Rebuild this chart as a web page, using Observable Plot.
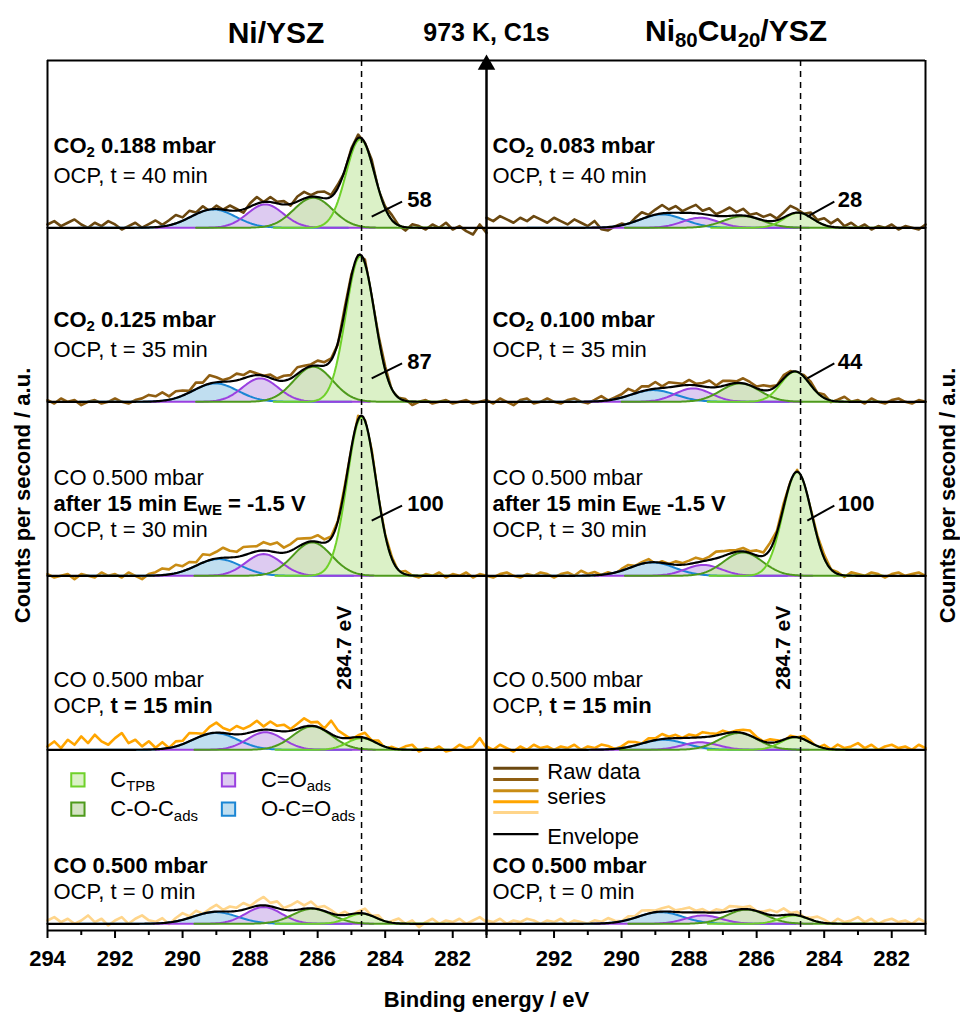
<!DOCTYPE html>
<html><head><meta charset="utf-8">
<script src="https://cdn.jsdelivr.net/npm/d3@7"></script>
<script src="https://cdn.jsdelivr.net/npm/@observablehq/plot@0.6"></script>
<style>
body{margin:0;background:#fff;}
#chart svg{display:block;}
</style></head><body><div id="chart"></div>
<script>
// ---------------- data ----------------
const panels = ["Ni/YSZ", "Ni80Cu20/YSZ"];
const rows = [0, 1, 2, 3, 4];
const componentNames = ["C_{TPB}", "C-O-C_{ads}", "C=O_{ads}", "O-C=O_{ads}"];
const componentFwhm = [1.0, 1.35, 1.25, 1.55];

// peak centres (eV) per row, order: C_TPB, C-O-C, C=O, O-C=O
const niCenters = [
  [284.74, 286.13, 287.55, 289.09],
  [284.74, 286.13, 287.70, 289.03],
  [284.70, 286.16, 287.60, 288.94],
  [284.70, 286.16, 287.55, 289.03],
  [284.70, 286.16, 287.60, 289.03]
];
const niHeights = [
  [53, 18, 14, 11],
  [87, 21, 14, 11],
  [95, 20, 13, 10],
  [7, 14, 10.5, 10],
  [6, 9, 10, 7]
];
const cuCenters = [
  [284.77, 286.40, 287.67, 288.80],
  [284.86, 286.49, 287.88, 289.06],
  [284.80, 286.40, 287.58, 289.09],
  [284.86, 286.54, 287.67, 288.76],
  [284.90, 286.30, 287.58, 288.85]
];
const cuHeights = [
  [9, 7, 6, 8],
  [18, 11, 8, 7],
  [62, 14, 6.5, 8],
  [7.5, 10, 4.5, 6],
  [5, 8.5, 5, 7]
];

// raw-data deviation from the envelope, every 0.2 eV from 294 to 281 eV
const niRawResidual = [
  [2,4,1,3,5,2,0,3,1,4, 2,-1,1,3,0,2,4,1,3,5, 2,4,1,3,-1,2,0,3,1,-2, 2,4,0,3,1,2,-1,3,4,1, 3,4,1,2,-1,1,2,0,2,-1, 1,3,0,-2,2,1,-1,2,0,3, -1,1,-2,-4,2,-3],
  [1,-1,2,0,1,-2,0,1,-1,0, 2,0,-1,1,2,4,3,5,2,4, 3,1,4,2,5,3,1,2,4,2, 3,1,0,2,1,3,2,4,2,1, 3,2,1,-1,2,1,0,2,-1,1, 2,-1,0,1,-2,0,1,-1,0,1, -1,0,1,-1,0,1],
  [1,-1,0,1,-2,1,0,-1,2,0, 1,-1,2,0,-2,1,2,4,3,5, 3,4,2,5,3,4,6,4,3,5, 4,3,5,4,6,3,4,5,3,2, 4,2,1,0,1,-1,2,0,1,-1, 0,1,-1,2,0,-1,1,0,2,-1, 1,0,2,-1,1,0],
  [2,5,1,6,3,8,4,9,5,3, 7,10,4,6,2,5,1,4,0,3, 2,5,3,1,4,6,3,2,5,3, 4,6,2,5,3,4,1,3,5,2, 3,1,8,4,2,-1,1,3,0,2, -1,1,0,2,3,-1,1,0,2,-1, 0,3,1,2,7,1],
  [2,4,1,3,0,2,5,1,3,-1, 2,4,0,3,5,2,1,3,-1,2, 4,1,3,0,2,4,1,3,2,4, 1,3,5,2,4,1,3,5,2,4, 1,3,2,0,2,-1,1,3,0,2, -1,1,3,0,2,-2,1,3,0,2, 1,3,0,2,4,1]
];
const cuRawResidual = [
  [6,4,7,5,3,6,4,7,5,3, 6,4,2,5,3,1,4,-1,-2,0, 1,-1,2,4,1,3,5,2,4,1, 3,5,2,4,1,3,5,2,4,1, 3,2,4,1,3,5,2,0,3,1, 4,2,5,1,3,0,2,-1,1,0, 2,-1,1,0,-1,2],
  [1,-1,2,0,-2,1,2,-1,0,2, 0,-1,1,2,0,-1,1,3,0,1, 2,4,1,3,2,4,1,3,2,1, 3,1,2,4,1,3,2,1,3,2, 1,3,2,0,2,1,-1,1,2,0, 2,-1,1,3,0,1,-1,2,0,-1, 1,2,0,-1,1,0],
  [0,-1,1,2,0,-1,1,0,2,1, -1,1,2,0,3,1,2,0,1,-1, 1,2,0,1,2,-1,1,0,2,1, 2,3,1,2,4,3,2,1,2,1, 3,2,4,1,2,0,1,-1,0,1, 2,0,1,-1,2,1,0,2,1,-1, 1,2,0,1,2,0],
  [2,0,3,1,-1,2,0,3,1,2, 0,2,1,3,0,2,1,3,2,0, 1,3,2,0,2,1,3,1,2,0, 2,1,3,2,1,2,0,1,2,3, 1,0,2,1,-1,1,0,2,1,-1, 2,0,3,1,2,4,1,3,0,2, 3,1,2,0,3,1],
  [2,1,3,0,2,1,3,2,0,2, 1,3,0,2,1,0,2,1,3,1, 0,2,1,3,2,1,2,3,1,2, 3,1,2,0,2,1,3,2,1,2, 0,1,3,2,4,1,2,0,1,3, 2,0,3,1,2,4,1,3,0,2, 3,1,2,0,3,1]
];

// annotation texts (** = bold, _{ } = subscript)
const niNotes = [
  ["**CO_{2} 0.188 mbar**", "OCP, t = 40 min"],
  ["**CO_{2} 0.125 mbar**", "OCP, t = 35 min"],
  ["CO 0.500 mbar", "**after 15 min E_{WE} = -1.5 V**", "OCP, t = 30 min"],
  ["CO 0.500 mbar", "OCP, **t = 15 min**"],
  ["**CO 0.500 mbar**", "OCP, t = 0 min"]
];
const cuNotes = [
  ["**CO_{2} 0.083 mbar**", "OCP, t = 40 min"],
  ["**CO_{2} 0.100 mbar**", "OCP, t = 35 min"],
  ["CO 0.500 mbar", "**after 15 min E_{WE} -1.5 V**", "OCP, t = 30 min"],
  ["CO 0.500 mbar", "OCP, **t = 15 min**"],
  ["**CO 0.500 mbar**", "OCP, t = 0 min"]
];
const niPeakPercent = [58, 87, 100];
const cuPeakPercent = [28, 44, 100];
const referenceEnergy = 284.7;
const niTickLabels = [294, 292, 290, 288, 286, 284, 282];
const cuTickLabels = [292, 290, 288, 286, 284, 282];
const rawLegendLabels = ["Raw data", "series"];

// ---------------- styles ----------------
const rawColors = ["#6b4810", "#8f5e12", "#c98c14", "#ffa500", "#ffd58a"];
const compStroke = ["#6fd12a", "#4e9a1c", "#9a40e0", "#1b86d4"];
const compFill = ["#dbf1c7", "#d4e3c3", "#ddcbf1", "#c0def0"];

// ---------------- build series ----------------
const params = {
  [panels[0]]: {c: niCenters, h: niHeights, res: niRawResidual, notes: niNotes, pct: niPeakPercent, ticks: niTickLabels},
  [panels[1]]: {c: cuCenters, h: cuHeights, res: cuRawResidual, notes: cuNotes, pct: cuPeakPercent, ticks: cuTickLabels}
};
function comp(p, r, k, x) {
  const c = params[p].c[r][k], h = params[p].h[r][k], w = componentFwhm[k];
  return h * Math.exp(-4 * Math.LN2 * (x - c) ** 2 / (w * w));
}
function env(p, r, x) { return d3.sum([0, 1, 2, 3], k => comp(p, r, k, x)); }
const fitGrid = d3.range(0, 261).map(i => +(294 - i * 0.05).toFixed(2));

const compData = [], envData = [], rawData = [];
for (const p of panels) for (const r of rows) {
  for (const x of fitGrid) {
    envData.push({panel: p, row: r, x, y: env(p, r, x)});
    for (let k = 0; k < 4; k++) {
      if (Math.abs(x - params[p].c[r][k]) <= 2.6 * componentFwhm[k])
        compData.push({panel: p, row: r, comp: k, x, y: comp(p, r, k, x)});
    }
  }
  params[p].res[r].forEach((v, i) => {
    const x = +(294 - i * 0.2).toFixed(2);
    rawData.push({panel: p, row: r, x, y: env(p, r, x) + v});
  });
}

// annotations
const noteBottom = [31, 31, 27.5, 26, 19];
const noteGap = [18, 18, 15.6, 16, 15.5];
const noteData = [];
for (const p of panels) for (const r of rows) {
  const lines = params[p].notes[r];
  lines.forEach((t, i) => noteData.push({panel: p, row: r, text: t, y: noteBottom[r] + (lines.length - 1 - i) * noteGap[r]}));
}
const pctY = [16.7, 24, 43];
const pctData = [], leaderData = [];
panels.forEach((p, pi) => params[p].pct.forEach((v, r) => {
  const tx = pi === 0 ? 283.35 : 283.6;
  pctData.push({panel: p, row: r, x: tx, y: pctY[r], text: String(v)});
  leaderData.push({panel: p, row: r, x1: pi === 0 ? 284.4 : 284.5, y1: pctY[r] - 10, x2: pi === 0 ? 283.5 : 283.7, y2: pctY[r] - 1});
}));
const tickLabelData = panels.flatMap(p => params[p].ticks.map(x => ({panel: p, row: 4, x})));

const F = {fx: "panel", fy: "row"};
const one = (p, r) => [{panel: p, row: r}];

// legend layout
const legCompPos = [[293.1, 86], [293.1, 68.5], [288.64, 86], [288.64, 68.5]];
const legRawY = [93, 86.3, 79.6, 72.9, 66.6];

const marks = [];
rows.forEach(r => marks.push(Plot.line(rawData.filter(d => d.row === r), {x: "x", y: "y", ...F, stroke: rawColors[r], strokeWidth: 2.6})));
[3, 2, 1, 0].forEach(k => marks.push(Plot.areaY(compData.filter(d => d.comp === k), {x: "x", y: "y", ...F, fill: compFill[k]})));
[3, 2, 1, 0].forEach(k => marks.push(Plot.line(compData.filter(d => d.comp === k), {x: "x", y: "y", ...F, stroke: compStroke[k], strokeWidth: 2})));
marks.push(Plot.line(envData, {x: "x", y: "y", ...F, stroke: "black", strokeWidth: 2.2}));
marks.push(Plot.ruleX([referenceEnergy], {strokeDasharray: "6,5", strokeWidth: 1.5}));
marks.push(Plot.ruleX([294, 281], {strokeWidth: 2}));
marks.push(Plot.ruleY(panels.flatMap(p => one(p, 0)), {y: () => 100, ...F, strokeWidth: 2}));
marks.push(Plot.ruleY(panels.flatMap(p => one(p, 4)), {y: () => -4, ...F, strokeWidth: 2}));
marks.push(Plot.dot(one(panels[0], 0), {x: () => 281, y: () => 97.5, ...F, symbol: "triangle", r: 6.5, fill: "black"}));
// x axis
marks.push(Plot.axisX({ticks: d3.range(282, 295, 2), tickSize: 8, tickFormat: () => "", strokeWidth: 2, label: null}));
marks.push(Plot.axisX({ticks: d3.range(281, 295, 2), tickSize: 5, tickFormat: () => "", strokeWidth: 2, label: null}));
marks.push(Plot.text(tickLabelData, {x: "x", ...F, text: d => String(d.x), frameAnchor: "bottom", lineAnchor: "middle", dy: 28, fontSize: 22, fontWeight: "bold"}));
marks.push(Plot.text(one(panels[0], 4), {...F, text: () => "Binding energy / eV", frameAnchor: "bottom-right", lineAnchor: "middle", dy: 69, textAnchor: "middle", fontSize: 22, fontWeight: "bold"}));
// y labels
marks.push(Plot.text(one(panels[0], 2), {...F, text: () => "Counts per second / a.u.", frameAnchor: "left", textAnchor: "middle", lineAnchor: "middle", dx: -25, rotate: -90, fontSize: 22, fontWeight: "bold"}));
marks.push(Plot.text(one(panels[1], 2), {...F, text: () => "Counts per second / a.u.", frameAnchor: "right", textAnchor: "middle", lineAnchor: "middle", dx: 22, rotate: -90, fontSize: 22, fontWeight: "bold"}));
// headers
marks.push(Plot.text(one(panels[0], 0), {...F, text: () => "Ni/YSZ", frameAnchor: "top", lineAnchor: "middle", dx: 9, dy: -27, fontSize: 30, fontWeight: "bold"}));
marks.push(Plot.text(one(panels[0], 0), {...F, text: () => "973 K, C1s", frameAnchor: "top-right", textAnchor: "middle", lineAnchor: "middle", dy: -28, fontSize: 25, fontWeight: "bold"}));
marks.push(Plot.text(one(panels[1], 0), {...F, text: () => "Ni_{80}Cu_{20}/YSZ", frameAnchor: "top", lineAnchor: "middle", dx: 30, dy: -29, fontSize: 30, fontWeight: "bold"}));
// notes
marks.push(Plot.text(noteData, {x: () => 294, y: "y", ...F, text: "text", dx: 6, textAnchor: "start", fontSize: 22}));
marks.push(Plot.link(leaderData, {x1: "x1", y1: "y1", x2: "x2", y2: "y2", ...F, strokeWidth: 2}));
marks.push(Plot.text(pctData, {x: "x", y: "y", ...F, text: "text", textAnchor: "start", fontSize: 22, fontWeight: "bold"}));
marks.push(Plot.text(panels.flatMap(p => one(p, 3)), {x: () => referenceEnergy, y: () => 61, ...F, text: () => "284.7 eV", dx: -17, rotate: -90, fontSize: 21, fontWeight: "bold"}));
// legend: components
[0, 1, 2, 3].forEach(k => {
  const [lx, ly] = legCompPos[k];
  marks.push(Plot.dot(one(panels[0], 4), {x: () => lx, y: () => ly, ...F, symbol: "square", r: 7.5, fill: compFill[k], stroke: compStroke[k], strokeWidth: 2}));
  marks.push(Plot.text(one(panels[0], 4), {x: () => lx - 0.96, y: () => ly, ...F, text: () => componentNames[k], textAnchor: "start", fontSize: 22}));
});
// legend: raw data + envelope
rawColors.forEach((c, i) => marks.push(Plot.link(one(panels[1], 4), {x1: () => 293.8, x2: () => 292.46, y1: () => legRawY[i], y2: () => legRawY[i], ...F, stroke: c, strokeWidth: 3})));
marks.push(Plot.link(one(panels[1], 4), {x1: () => 293.8, x2: () => 292.46, y1: () => 53.6, y2: () => 53.6, ...F, stroke: "black", strokeWidth: 2.2}));
marks.push(Plot.text(one(panels[1], 4), {x: () => 292.2, y: () => 91, ...F, text: () => rawLegendLabels[0], textAnchor: "start", fontSize: 22}));
marks.push(Plot.text(one(panels[1], 4), {x: () => 292.2, y: () => 75.6, ...F, text: () => rawLegendLabels[1], textAnchor: "start", fontSize: 22}));
marks.push(Plot.text(one(panels[1], 4), {x: () => 292.2, y: () => 51.8, ...F, text: () => "Envelope", textAnchor: "start", fontSize: 22}));

const chart = Plot.plot({
  width: 960, height: 1019,
  marginLeft: 47, marginRight: 35, marginTop: 58, marginBottom: 87,
  style: {fontFamily: "'Liberation Sans', Arial, sans-serif", fontSize: "20px", color: "black", background: "white", overflow: "visible"},
  fx: {domain: panels, padding: 0, axis: null},
  fy: {domain: rows, padding: 0, axis: null},
  x: {domain: [294, 281]},
  y: {domain: [-4, 100], axis: null},
  marks
});
document.getElementById("chart").appendChild(chart);

// rich text: bold (**) and subscripts (_{ })
d3.select(chart).selectAll("text").each(function () {
  const s = this.textContent;
  if (!s.includes("_{") && !s.includes("**")) return;
  const fs = parseFloat(getComputedStyle(this).fontSize) || 20;
  const parts = s.split(/(\*\*|_\{[^}]*\})/).filter(t => t !== "");
  this.textContent = "";
  const sel = d3.select(this);
  let bold = false, shifted = false;
  for (const t of parts) {
    if (t === "**") { bold = !bold; continue; }
    const ts = sel.append("tspan");
    if (bold) ts.attr("font-weight", "bold");
    if (t.startsWith("_{")) {
      ts.text(t.slice(2, -1)).attr("font-size", fs * 0.68).attr("dy", fs * 0.2);
      shifted = true;
    } else {
      ts.text(t);
      if (shifted) { ts.attr("dy", -fs * 0.2); shifted = false; }
    }
  }
});
</script></body></html>
